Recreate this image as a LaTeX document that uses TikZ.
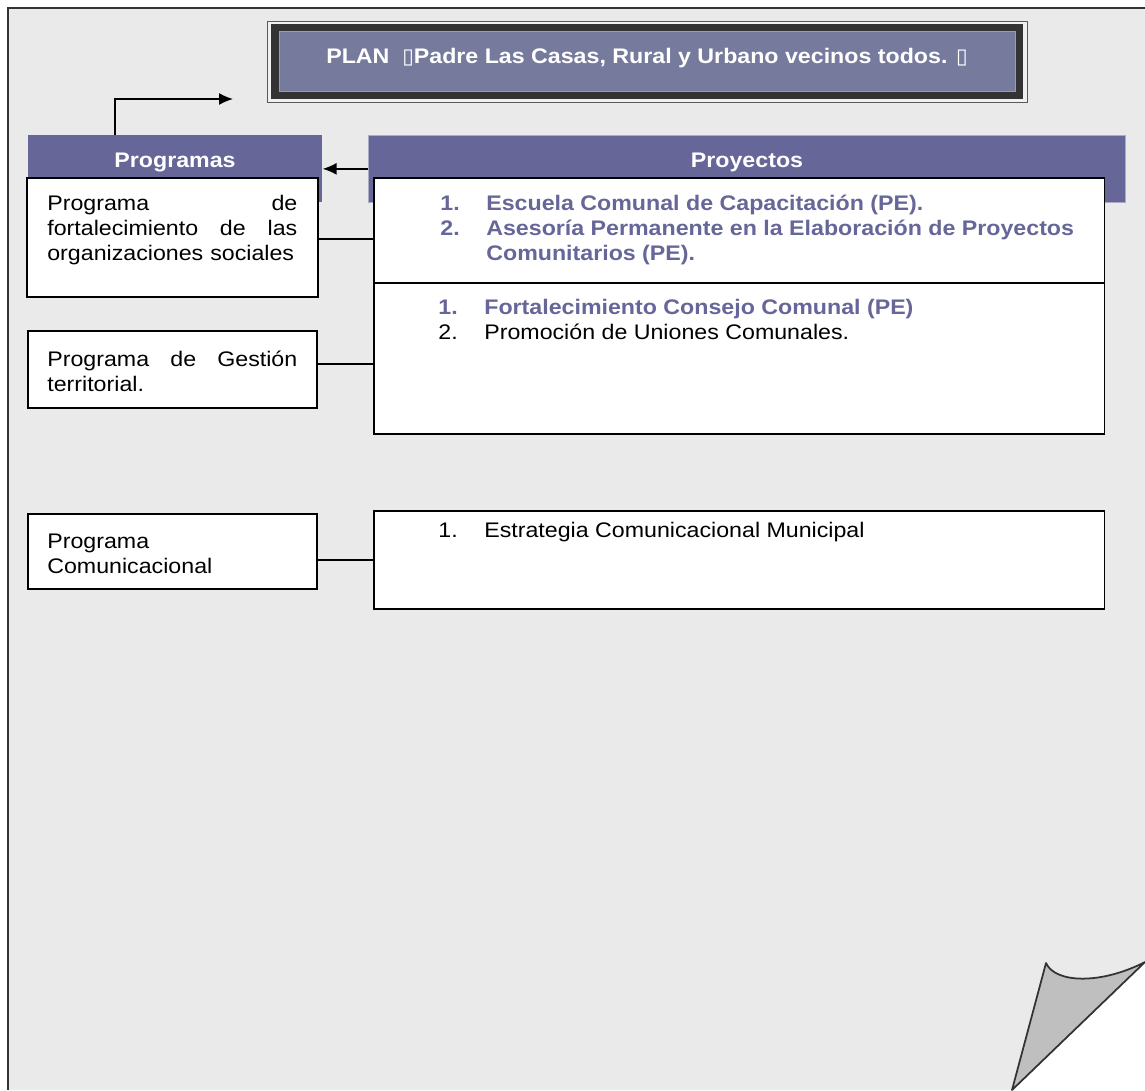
\documentclass[tikz,border=0pt]{standalone}
\usepackage{fontspec}
\setmainfont[FakeStretch=1.1]{Liberation Sans}
\newfontfamily\glyphfont{DejaVu Sans}
\usetikzlibrary{arrows.meta,positioning,calc}
\definecolor{pagegray}{HTML}{EAEAEA}
\definecolor{hdrblue}{HTML}{666699}
\definecolor{titleblue}{HTML}{767B9E}
\definecolor{curlgray}{HTML}{BFBFBF}
\definecolor{edgegray}{HTML}{333333}
\newcommand{\destacado}[1]{\textcolor{hdrblue}{\bfseries #1}}

\begin{document}
\begin{tikzpicture}[x=0.02cm,y=-0.02cm,
  box/.style={draw,line width=0.9pt,fill=white,anchor=north west,inner sep=0pt},
  hdr/.style={fill=hdrblue,anchor=north west,inner sep=0pt,minimum height=1.34cm},
  hdrtxt/.style={text=white,font=\fontsize{12}{14.5}\selectfont\bfseries,anchor=base,inner sep=0pt},
  txt/.style={font=\fontsize{12}{14.5}\selectfont,anchor=base west,inner sep=0pt},
  conn/.style={line width=0.8pt},
  arr/.style={line width=0.8pt,-{Latex[length=2.8mm,width=2.4mm]}}]
\useasboundingbox (0,0) rectangle (1145,1090);
% page with curled corner
\fill[white] (0,0) rectangle (1145,1090);
\fill[pagegray] (8,8) -- (1145,8) -- (1145,962) -- (1012,1090) -- (8,1090) -- cycle;
\draw[edgegray,line width=0.9pt] (8,1090) -- (8,8) -- (1145,8);
\filldraw[fill=curlgray,draw=edgegray,line width=1pt,line join=round] (1046,963) .. controls (1055,983) and (1100,985) .. (1145,962) -- (1012,1090) -- cycle;
% title
\draw[fill=gray!12,draw=gray!70!black,line width=0.5pt] (267,21) rectangle (1027,102);
\fill[edgegray] (271,24) rectangle (1023,99);
\node[fill=titleblue,draw=titleblue!75!white,line width=0.4pt,anchor=north west,inner sep=0pt,minimum width=14.72cm,minimum height=1.2cm] (titlebox) at (279,31) {};
\node[hdrtxt] (title) at (647,63) {PLAN\ \ {\glyphfont\mdseries ▯}Padre Las Casas, Rural y Urbano vecinos todos. {\glyphfont\mdseries ▯}};
% headers
\node[hdr,minimum width=5.88cm] (hdrprog) at (28,135) {};
\node[hdr,minimum width=15.14cm,draw=hdrblue!55!white,line width=0.4pt] (hdrproy) at (368,135) {};
\node[hdrtxt] (hdrprogt) at (175,167) {Programas};
\node[hdrtxt] (hdrproyt) at (747,167) {Proyectos};
% programas
\node[box,minimum width=5.82cm,minimum height=2.38cm] (prog1) at (26,177) {};
\node[box,minimum width=5.78cm,minimum height=1.54cm] (prog2) at (27,330) {};
\node[box,minimum width=5.78cm,minimum height=1.5cm] (prog3) at (27,513) {};
\node[txt,text width=5cm,align=left] (prog1t) at (47,210) {Programa\hfill de\\fortalecimiento\hfill de\hfill las\\organizaciones sociales};
\node[txt,text width=5cm,align=left] (prog2t) at (47,366) {Programa\hfill de\hfill Gestión\\territorial.};
\node[txt,text width=5cm,align=left] (prog3t) at (47,548) {Programa\\Comunicacional};
% proyectos
\node[box,minimum width=14.62cm,minimum height=2.1cm] (proy1) at (373,177) {};
\node[box,minimum width=14.62cm,minimum height=3.02cm] (proy2) at (373,282) {};
\node[box,minimum width=14.62cm,minimum height=1.96cm] (proy3) at (373,510) {};
\node[txt] (proy1t) at (440,210) {\begin{tabular}[t]{@{}p{0.92cm}@{}l@{}}
\destacado{1.} & \destacado{Escuela Comunal de Capacitación (PE).}\\
\destacado{2.} & \destacado{Asesoría Permanente en la Elaboración de Proyectos}\\
 & \destacado{Comunitarios (PE).}\end{tabular}};
\node[txt] (proy2t) at (438,314) {\begin{tabular}[t]{@{}p{0.92cm}@{}l@{}}
\destacado{1.} & \destacado{Fortalecimiento Consejo Comunal (PE)}\\
2. & Promoción de Uniones Comunales.\end{tabular}};
\node[txt] (proy3t) at (438,537) {\begin{tabular}[t]{@{}p{0.92cm}@{}l@{}}
1. & Estrategia Comunicacional Municipal\end{tabular}};
% connectors
\coordinate (upend) at (233,99);
\draw[arr] ([xshift=1.74cm]hdrprog.north west) |- (upend);
\draw[arr] (hdrproy.west) -- (hdrprog.east);
\draw[conn] (prog1.east |- 0,239) -- (proy1.west |- 0,239);
\draw[conn] (prog2.east |- 0,364) -- (proy2.west |- 0,364);
\draw[conn] (prog3.east |- 0,560) -- (proy3.west |- 0,560);
\end{tikzpicture}
\end{document}
